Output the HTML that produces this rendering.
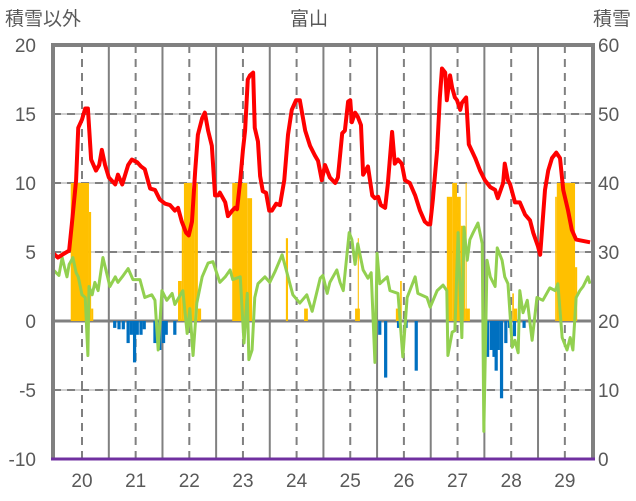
<!DOCTYPE html>
<html><head><meta charset="utf-8"><style>
body{margin:0;background:#fff;}
svg{display:block;font-family:"Liberation Sans","Noto Sans CJK JP",sans-serif;}
</style></head><body>
<svg id="chart" width="636" height="501" viewBox="0 0 636 501" xmlns="http://www.w3.org/2000/svg">
<text x="5" y="25" font-size="19" fill="#595959">積雪以外</text>
<text x="309" y="25" font-size="19" fill="#595959" text-anchor="middle">富山</text>
<text x="631" y="25" font-size="19" fill="#595959" text-anchor="end">積雪</text>
<g id="grid"></g><g id="bars"></g><g id="lines"></g><g id="frame"></g><g id="labels"></g>
</svg>
<script>
const yearLabels=[20,21,22,23,24,25,26,27,28,29];
const leftTicks=[20,15,10,5,0,-5,-10];
const rightTicks=[60,50,40,30,20,10,0];
const redDates=[19.44,19.55,19.63,19.76,19.81,19.89,19.93,20.00,20.06,20.11,20.17,20.26,20.32,20.37,20.43,20.50,20.62,20.67,20.75,20.86,20.93,21.03,21.10,21.17,21.27,21.36,21.45,21.55,21.64,21.73,21.79,21.86,21.94,21.99,22.05,22.11,22.16,22.24,22.29,22.35,22.42,22.48,22.54,22.57,22.67,22.72,22.80,22.85,22.89,22.95,23.00,23.04,23.09,23.13,23.19,23.22,23.28,23.32,23.37,23.43,23.49,23.54,23.62,23.69,23.77,23.84,23.91,23.99,24.06,24.16,24.25,24.34,24.40,24.47,24.53,24.62,24.72,24.77,24.85,24.90,24.96,25.00,25.03,25.09,25.14,25.20,25.24,25.33,25.41,25.46,25.52,25.57,25.65,25.70,25.78,25.83,25.89,25.96,26.02,26.11,26.21,26.30,26.39,26.45,26.49,26.54,26.62,26.67,26.71,26.77,26.80,26.86,26.90,26.95,26.99,27.05,27.08,27.16,27.21,27.33,27.42,27.51,27.61,27.70,27.75,27.85,27.88,27.94,27.98,28.07,28.16,28.26,28.35,28.41,28.50,28.54,28.63,28.69,28.76,28.84,28.91,28.97,29.06,29.13,29.21,29.47];
const redValues=[5.0,4.6,4.8,5.1,7.0,10.2,14.0,14.6,15.4,15.4,11.7,10.9,11.3,12.4,11.3,10.4,9.9,10.6,9.9,11.3,11.7,11.5,11.2,11.0,9.6,9.5,8.8,8.5,8.4,8.0,8.2,7.2,6.4,6.2,7.2,10.9,13.5,14.7,15.1,13.8,12.7,9.1,9.1,9.3,8.6,7.6,8.0,8.2,8.1,10.2,12.4,13.8,17.5,17.8,18.0,14.0,13.0,10.5,9.4,9.3,8.0,8.0,8.5,8.4,10.2,13.5,15.3,16.0,16.0,13.8,12.7,12.0,11.6,10.2,11.3,10.4,10.0,10.4,13.6,13.8,15.9,16.0,14.4,15.1,14.8,14.2,10.6,11.2,9.1,8.9,9.0,8.4,8.2,9.9,13.7,11.4,11.7,11.4,10.2,10.0,9.1,8.0,7.2,7.0,7.0,8.8,12.4,16.2,18.3,18.0,16.0,17.8,16.9,16.2,16.0,15.3,15.8,16.2,12.8,11.8,10.9,10.2,9.7,9.5,8.9,10.0,11.4,10.2,9.9,8.6,8.6,7.7,7.3,6.4,5.4,4.8,9.5,10.9,11.8,12.2,11.8,9.5,8.0,6.6,5.9,5.7];
const greenDates=[19.44,19.57,19.63,19.68,19.72,19.76,19.79,19.83,19.89,19.93,20.00,20.06,20.11,20.13,20.19,20.24,20.30,20.39,20.52,20.62,20.67,20.75,20.86,20.95,21.08,21.17,21.30,21.36,21.42,21.49,21.58,21.68,21.73,21.88,21.96,22.01,22.07,22.14,22.24,22.35,22.44,22.57,22.67,22.76,22.81,22.95,23.02,23.08,23.11,23.17,23.22,23.28,23.41,23.50,23.60,23.73,23.82,23.93,24.06,24.19,24.29,24.44,24.49,24.57,24.62,24.75,24.81,24.87,24.98,25.03,25.09,25.14,25.24,25.33,25.39,25.46,25.50,25.55,25.69,25.74,25.89,25.98,26.06,26.21,26.26,26.43,26.49,26.62,26.73,26.80,26.82,26.90,26.95,27.01,27.08,27.12,27.18,27.23,27.29,27.38,27.46,27.49,27.55,27.61,27.70,27.74,27.83,27.88,27.94,28.02,28.07,28.13,28.16,28.22,28.30,28.39,28.48,28.59,28.72,28.82,28.87,28.95,29.04,29.10,29.15,29.21,29.28,29.34,29.43,29.47];
const greenValues=[3.8,3.3,4.6,3.8,3.2,4.1,4.3,4.6,3.5,3.2,1.9,1.7,-2.5,2.5,1.9,2.8,2.2,4.6,2.5,3.2,2.8,3.2,3.8,3.0,3.0,1.7,1.9,1.5,-2.1,2.2,1.5,2.0,1.2,2.2,-0.9,0.9,-2.5,1.3,3.2,4.2,4.3,2.8,3.2,3.7,3.0,3.2,-1.6,2.0,-2.8,-2.1,1.7,2.7,3.2,2.8,3.6,4.8,3.5,1.9,1.3,1.9,0.7,3.1,3.3,2.0,2.8,3.7,2.8,2.2,6.4,5.9,4.1,5.6,3.7,3.1,3.5,-3.0,4.9,2.7,3.2,2.2,2.0,-2.6,1.7,3.2,2.0,1.7,1.0,2.2,2.6,2.2,-2.5,-0.8,-0.7,6.4,-1.2,6.8,4.4,5.9,6.4,7.1,5.6,-8.0,4.4,3.2,2.5,5.3,4.4,3.2,2.7,-1.9,-1.4,-2.3,2.2,0.6,1.5,-1.4,1.7,1.5,2.4,2.2,2.7,-1.2,-2.1,-1.2,-2.1,1.7,2.2,2.5,3.2,2.7];
const orangeStart=[19.79,20.13,20.17,21.79,21.86,21.90,22.05,22.09,22.16,22.80,23.08,23.80,24.14,25.09,25.14,25.85,25.93,26.80,26.90,26.99,27.06,27.14,27.15,28.02,28.05,28.82,28.85,29.19];
const orangeEnd=[20.13,20.17,20.21,21.86,21.90,22.05,22.09,22.16,22.22,23.08,23.17,23.84,24.21,25.18,25.16,25.93,25.96,26.90,26.99,27.06,27.14,27.23,27.17,28.05,28.11,28.85,29.19,29.23];
const orangeValues=[10,7.9,0.9,2.9,7,10,7.9,10,0.9,10,8.9,6.0,0.9,0.9,6.0,0.9,2.9,9.0,10,9.0,6.9,0.9,10,2.0,0.9,9.0,10,3.9];
const blueDates=[20.61,20.69,20.77,20.86,20.92,20.98,21.03,21.10,21.16,21.36,21.45,21.52,21.57,21.73,25.55,25.66,25.90,26.04,26.23,27.56,27.63,27.68,27.72,27.76,27.82,27.90,27.97,28.06,28.24];
const blueValues=[-0.5,-0.6,-0.6,-1.6,-1.0,-3.0,-1.0,-1.0,-0.6,-1.6,-2.1,-1.6,-1.0,-1.0,-1.0,-4.1,-0.5,-0.5,-3.6,-2.6,-2.1,-2.6,-3.6,-2.1,-5.6,-1.6,-0.5,-1.1,-0.5];

const NS='http://www.w3.org/2000/svg';
const L=53,R=593,T=45,B=459;
const xS=d=>82+(d-20)*53.65;
const yL=v=>321-v*13.8;
const yR=v=>B-(v)*6.9;
function mk(tag,attrs,parent){const e=document.createElementNS(NS,tag);for(const k in attrs)e.setAttribute(k,attrs[k]);parent.appendChild(e);return e;}
const grid=document.getElementById('grid'),bars=document.getElementById('bars'),lines=document.getElementById('lines'),frame=document.getElementById('frame'),labels=document.getElementById('labels');

leftTicks.forEach(v=>{
  if(v===20||v===-10)return;
  const y=yL(v);
  const g=mk('line',{x1:L,x2:R,y1:y,y2:y,stroke:v===0?'#808080':'#d0d0d0','stroke-width':v===0?3:2},grid);
  
  
  if(v!==0){const d=mk('line',{x1:L,x2:R,y1:y,y2:y,stroke:'#808080','stroke-width':2,'stroke-dasharray':'8,6'},grid);
  
  }
});
yearLabels.forEach(yr=>{
  const xc=xS(yr);
  const d=mk('line',{x1:xc,x2:xc,y1:T,y2:B,stroke:'#808080','stroke-width':2,'stroke-dasharray':'8,6'},grid);
  
  
  if(yr<29){const xb=xS(yr+0.5);
  const s=mk('line',{x1:xb,x2:xb,y1:T,y2:B,stroke:'#808080','stroke-width':2},grid);
  
  }
  const t=mk('text',{x:xc,y:487,'font-size':19,fill:'#595959','text-anchor':'middle'},labels);
  t.textContent=yr;
  
  
});
orangeValues.forEach((v,i)=>{
  const x1=xS(orangeStart[i]),x2=xS(orangeEnd[i]);
  const r=mk('rect',{x:x1,y:yL(v),width:Math.max(1,x2-x1),height:yL(0)-yL(v),fill:'#FFC000'},bars);
  
  
});
blueValues.forEach((v,i)=>{
  const x1=xS(blueDates[i]-0.03);
  const r=mk('rect',{x:x1,y:yL(0),width:0.06*53.65,height:yL(v)-yL(0),fill:'#0070C0'},bars);
  
  
});
const gp=mk('polyline',{points:greenDates.map((d,i)=>xS(d)+','+yL(greenValues[i])).join(' '),fill:'none',stroke:'#92D050','stroke-width':3,'stroke-linejoin':'round'},lines);


const rp=mk('polyline',{points:redDates.map((d,i)=>xS(d)+','+yL(redValues[i])).join(' '),fill:'none',stroke:'#FF0000','stroke-width':4,'stroke-linejoin':'round'},lines);



const fr=mk('path',{d:`M${L},${B} L${L},${T} L${R},${T} L${R},${B}`,fill:'none',stroke:'#808080','stroke-width':4},frame);


const bl=mk('line',{x1:L-2,x2:R+2,y1:B,y2:B,stroke:'#7030A0','stroke-width':3},frame);



leftTicks.forEach(v=>{
  const t=mk('text',{x:36,y:yL(v)+7,'font-size':19,fill:'#595959','text-anchor':'end'},labels);
  t.textContent=v;
  
  
});
rightTicks.forEach(v=>{
  const t=mk('text',{x:598,y:yR(v)+7,'font-size':19,fill:'#595959'},labels);
  t.textContent=v;
  
  
});
</script>
</body></html>
